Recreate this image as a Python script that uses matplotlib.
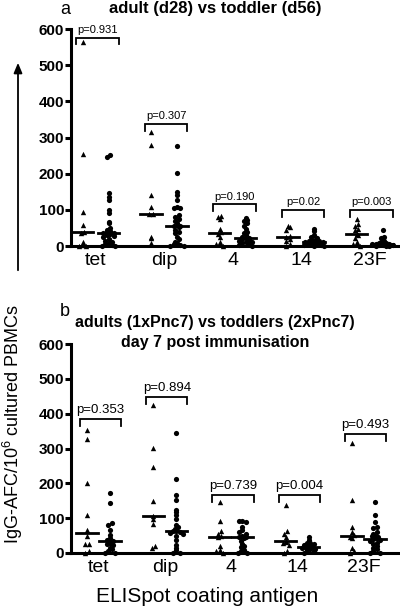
#!/bin/env python
# ELISpot IgG-AFC counts, adults vs toddlers, two panels stacked
import numpy as np
import matplotlib
matplotlib.use('Agg')
import matplotlib.pyplot as plt

plt.rcParams['font.family'] = ['Liberation Sans', 'DejaVu Sans']
plt.rcParams['mathtext.fontset'] = 'custom'
plt.rcParams['mathtext.rm'] = 'Liberation Sans'

antigens = ['tet', 'dip', '4', '14', '23F']

# panel a: adult (d28) vs toddler (d56)
a_adult = [
    [564, 255, 95, 58, 40, 37, 12, 4, 0, 0],
    [316, 279, 141, 107, 90, 88, 24, 21, 8],
    [83, 80, 75, 47, 38, 33, 25, 10, 5, 0],
    [55, 52, 44, 28, 24, 20, 14, 5, 0],
    [76, 62, 56, 48, 44, 33, 30, 22, 10, 5, 0],
]
a_toddler = [
    [252, 247, 147, 136, 127, 100, 92, 67, 63, 50, 45, 42, 38, 35, 35, 32, 30, 28, 25, 20, 15, 12, 8, 5, 3, 0, 0],
    [276, 201, 150, 141, 127, 107, 106, 104, 86, 80, 75, 70, 65, 56, 55, 52, 45, 40, 35, 25, 20, 12, 8, 5, 2, 0, 0],
    [77, 72, 68, 63, 55, 47, 40, 36, 30, 26, 22, 21, 20, 18, 15, 12, 10, 8, 5, 3, 0],
    [47, 42, 30, 25, 22, 20, 18, 15, 13, 12, 12, 10, 8, 6, 5, 3, 2, 0, 0],
    [45, 25, 22, 15, 12, 10, 9, 8, 7, 6, 5, 4, 3, 2, 0, 0, 0],
]
a_pvals = ['p=0.931', 'p=0.307', 'p=0.190', 'p=0.02', 'p=0.003']
a_bracket = [576, 337, 115, 99, 99]

# panel b: adults (1xPnc7) vs toddlers (2xPnc7), day 7
b_adult = [
    [353, 326, 202, 109, 66, 50, 27, 25, 5, 0],
    [425, 302, 246, 150, 106, 97, 83, 20, 15],
    [146, 93, 62, 55, 48, 46, 20, 8, 5, 0],
    [138, 62, 55, 45, 35, 32, 28, 22, 5, 0],
    [316, 152, 74, 61, 52, 47, 42, 15, 5, 0],
]
b_toddler = [
    [172, 144, 86, 80, 66, 52, 43, 38, 33, 30, 25, 22, 14, 10, 5, 0, 0],
    [344, 212, 166, 152, 124, 119, 109, 97, 80, 75, 70, 63, 62, 61, 58, 55, 50, 37, 23, 15, 8, 0, 0],
    [93, 92, 90, 76, 65, 60, 55, 50, 47, 45, 42, 35, 25, 20, 18, 8, 5, 0, 0],
    [45, 38, 30, 28, 25, 22, 20, 18, 17, 15, 12, 10, 8, 5, 0],
    [147, 108, 90, 76, 72, 60, 55, 50, 48, 45, 42, 40, 38, 35, 30, 25, 20, 15, 10, 5, 0, 0],
]
b_pvals = ['p=0.353', 'p=0.894', 'p=0.739', 'p=0.004', 'p=0.493']
b_bracket = [385, 449, 166, 166, 342]


def Spread(vals, step, binsize, maxk=3):
    """x offsets so points of similar value sit side by side (wraps after maxk)"""
    vals = np.asarray(vals, float)
    offs = np.zeros(len(vals))
    bins = np.floor(vals / binsize)
    for b in np.unique(bins):
        idx = np.where(bins == b)[0]
        k = np.arange(len(idx)) % (2 * maxk + 1)
        pat = np.where(k % 2 == 0, k // 2, -(k + 1) // 2).astype(float)
        if len(idx) % 2 == 0 and len(idx) <= 2 * maxk:
            pat += 0.5
        offs[idx] = pat * step
    return offs


def Plot_Panel(ax, adult, toddler, pvals, brackets, xlim, sep, pfs, leg):
    for i in range(len(antigens)):
        for vals, dx, mk, sz in [(adult[i], -sep, '^', 15), (toddler[i], sep, 'o', 14)]:
            x = i + dx + Spread(vals, 0.05, 11)
            ax.scatter(x, vals, marker=mk, s=sz, color='black', linewidths=0, clip_on=False, zorder=3)
            med = np.median(vals)
            ax.plot([i + dx - 0.16, i + dx + 0.16], [med, med], color='black', lw=2, zorder=4)
        # significance bracket
        x0, x1 = i - 0.28, i + 0.34
        top = brackets[i]
        ax.plot([x0, x0, x1, x1], [top - leg, top, top, top - leg], color='black', lw=1.3,
                solid_joinstyle='miter')
        ax.annotate(pvals[i], ((x0 + x1) / 2, top), xytext=(0, 2), textcoords='offset points',
                    ha='center', va='bottom', fontsize=pfs)

    ax.set_xlim(xlim)
    ax.set_ylim(0, 600)
    ax.set_yticks(range(0, 601, 100))
    ax.set_xticks(range(len(antigens)))
    ax.set_xticklabels(antigens, fontsize=14)
    for lab in ax.get_yticklabels():
        lab.set_fontweight('bold')
        lab.set_fontsize(11)
    ax.tick_params(axis='y', direction='out', length=4, width=2.2, pad=1)
    ax.tick_params(axis='x', length=0, pad=4)
    ax.spines['top'].set_visible(False)
    ax.spines['right'].set_visible(False)
    ax.spines['left'].set_linewidth(2.2)
    ax.spines['bottom'].set_linewidth(2.2)
    ax.patch.set_visible(False)


if __name__ == '__main__':
    fig = plt.figure(figsize=(4.0, 6.09), dpi=100)

    axA = fig.add_axes([0.1775, 0.596, 0.8225, 0.356])
    Plot_Panel(axA, a_adult, a_toddler, a_pvals, a_bracket, (-0.358, 4.445), 0.19, 8, 18)

    axB = fig.add_axes([0.1775, 0.092, 0.8225, 0.343])
    Plot_Panel(axB, b_adult, b_toddler, b_pvals, b_bracket, (-0.415, 4.55), 0.173, 9.5, 20)

    # titles and panel letters
    fig.text(65 / 400, 1 - 9 / 609, 'a', fontsize=13, ha='center', va='center')
    fig.text(215 / 400, 1 - 8 / 609, 'adult (d28) vs toddler (d56)', fontsize=12,
             fontweight='bold', ha='center', va='center')
    fig.text(65 / 400, 1 - 311 / 609, 'b', fontsize=13, ha='center', va='center')
    fig.text(215 / 400, 1 - 322 / 609, 'adults (1xPnc7) vs toddlers (2xPnc7)', fontsize=11.5,
             fontweight='bold', ha='center', va='center')
    fig.text(215 / 400, 1 - 342 / 609, 'day 7 post immunisation', fontsize=11.5,
             fontweight='bold', ha='center', va='center')

    # shared y label with arrow pointing up into panel a
    fig.text(13 / 400, 1 - 424 / 609, r'IgG-AFC/10$^{\mathrm{6}}$ cultured PBMCs', fontsize=13,
             rotation=90, ha='center', va='center')
    fig.add_artist(matplotlib.patches.FancyArrowPatch(
        (18 / 400, 1 - 273 / 609), (18 / 400, 1 - 60 / 609), transform=fig.transFigure,
        arrowstyle='-|>,head_length=6,head_width=2.5', color='black', lw=1.3))

    fig.text(207 / 400, 1 - 597 / 609, 'ELISpot coating antigen', fontsize=15,
             ha='center', va='center')

    fig.savefig('out.png', dpi=100)
    plt.close()
